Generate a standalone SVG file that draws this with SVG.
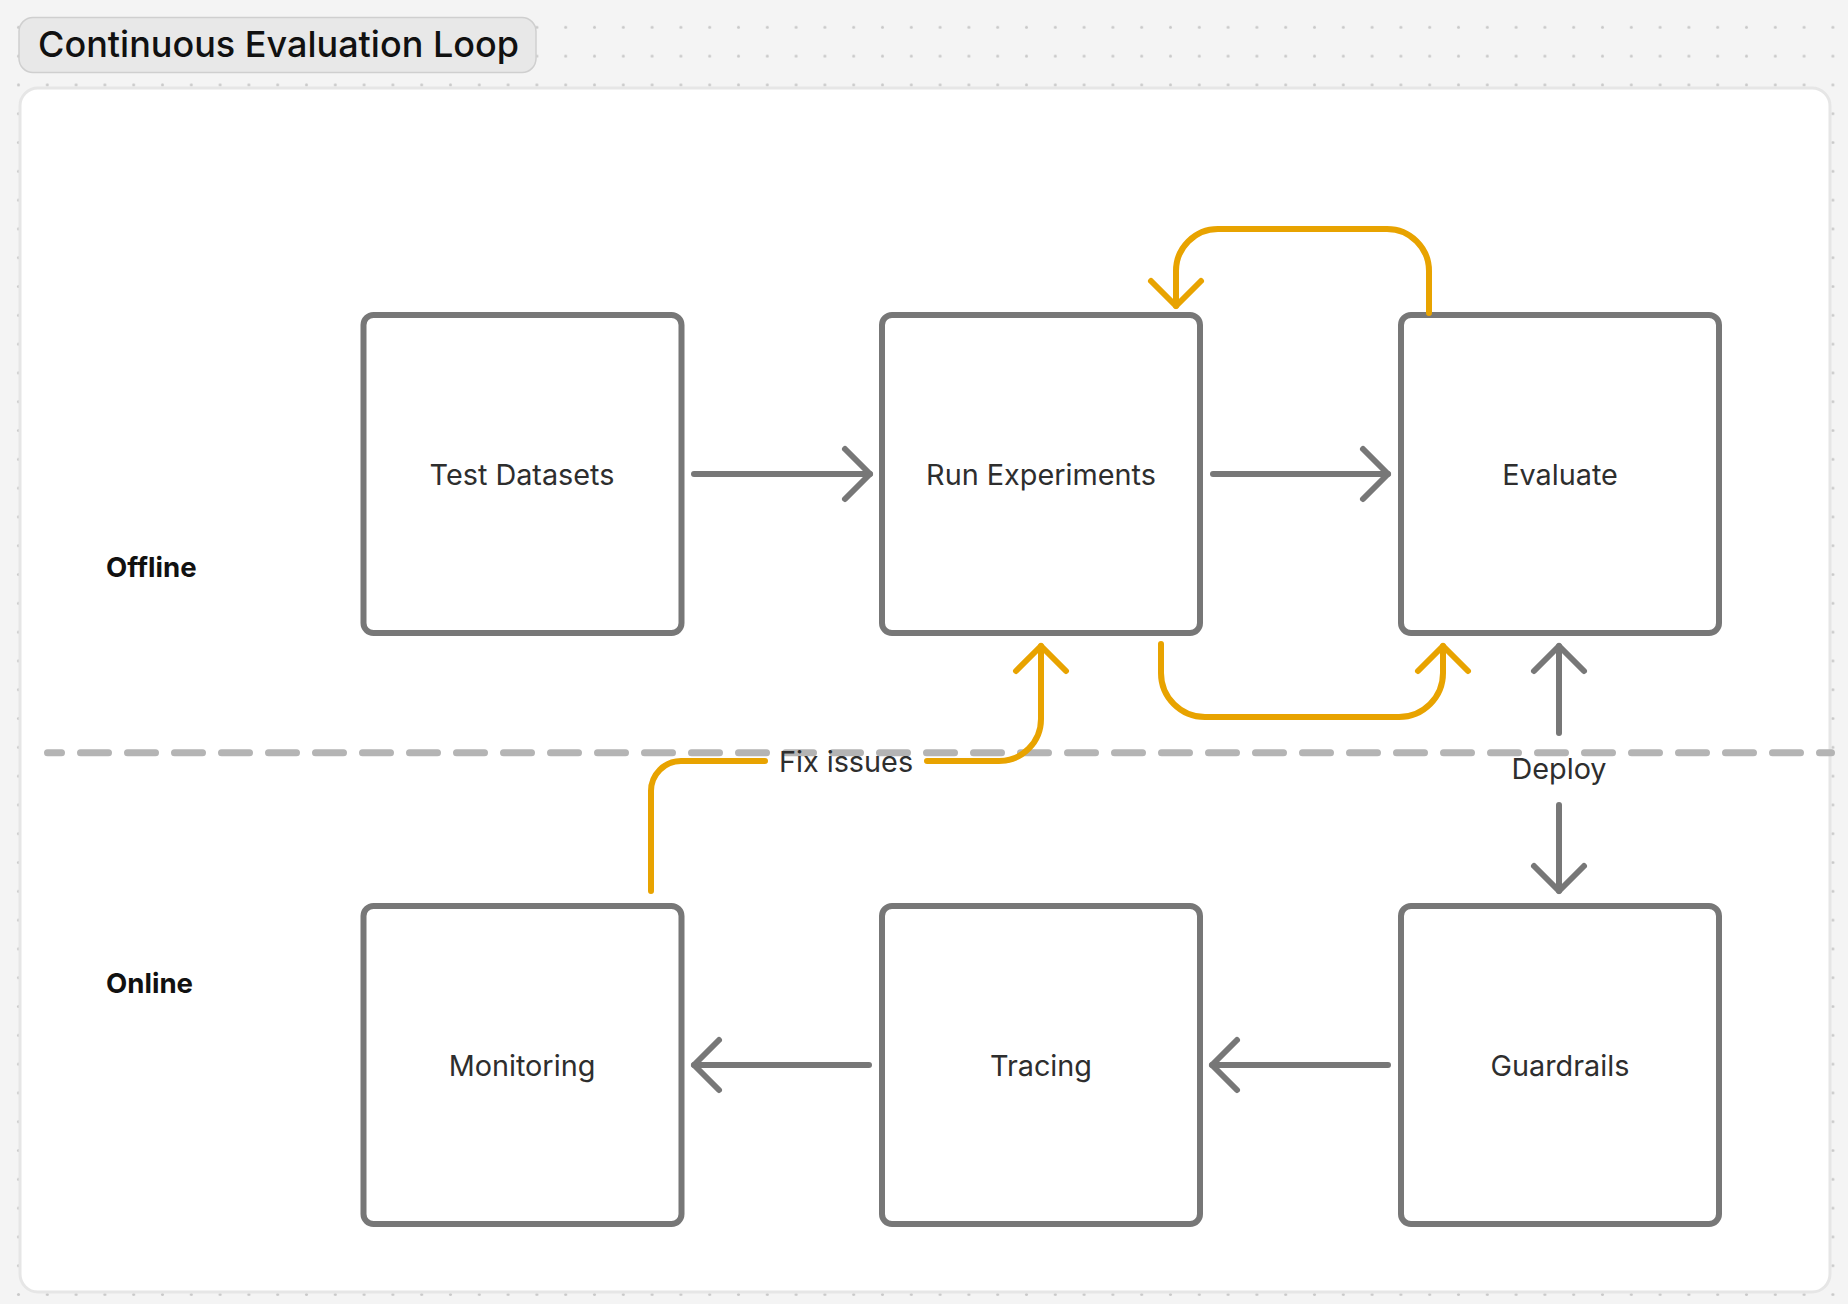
<svg xmlns="http://www.w3.org/2000/svg" width="1848" height="1304" viewBox="0 0 1848 1304">
<defs>
<pattern id="dots" patternUnits="userSpaceOnUse" x="4.1" y="-15.9" width="28.8" height="28.8">
<circle cx="14.4" cy="14.4" r="1.5" fill="#c9c9c9"/>
</pattern>
<marker id="ag" markerUnits="userSpaceOnUse" viewBox="0 0 40 60" refX="30" refY="30" markerWidth="40" markerHeight="60" orient="auto" overflow="visible">
<path d="M5,5 L30,30 L5,55" fill="none" stroke="#777777" stroke-width="6" stroke-linecap="round" stroke-linejoin="round"/>
</marker>
<marker id="ao" markerUnits="userSpaceOnUse" viewBox="0 0 40 60" refX="30" refY="30" markerWidth="40" markerHeight="60" orient="auto" overflow="visible">
<path d="M5,5 L30,30 L5,55" fill="none" stroke="#e8a300" stroke-width="6" stroke-linecap="round" stroke-linejoin="round"/>
</marker>
</defs>
<style>
.node rect{fill:#ffffff;stroke:#777777;stroke-width:6}
.lbl{font-family:Inter,"Liberation Sans",sans-serif;font-size:28.8px;fill:#2e2e2e;text-anchor:middle}
.lane{font-family:Inter,"Liberation Sans",sans-serif;font-size:27.6px;font-weight:700;fill:#111111}
.g{fill:none;stroke:#777777;stroke-width:6;stroke-linecap:round;stroke-linejoin:round}
.o{fill:none;stroke:#e8a300;stroke-width:6;stroke-linecap:round;stroke-linejoin:round}
</style>
<rect x="0" y="0" width="1848" height="1304" fill="#f4f4f4"/>
<rect x="0" y="0" width="1848" height="1304" fill="url(#dots)"/>
<g id="title">
<rect x="19" y="17.5" width="517" height="55" rx="14" fill="#e8e8e8" stroke="#cfcfcf" stroke-width="1.5"/>
<text x="38" y="56.5" font-family="Inter,'Liberation Sans',sans-serif" font-size="36" font-weight="500" fill="#111111">Continuous Evaluation Loop</text>
</g>
<rect id="panel" x="20" y="88" width="1810" height="1204" rx="18" fill="#ffffff" stroke="#e6e6e6" stroke-width="3"/>
<line id="divider" x1="47.5" y1="752.7" x2="1831.5" y2="752.7" stroke="#b4b4b4" stroke-width="7" stroke-linecap="round" stroke-dasharray="28 19" stroke-dashoffset="14"/>
<g id="lanes">
<text class="lane" x="106" y="577">Offline</text>
<text class="lane" x="106" y="993">Online</text>
</g>
<g id="test-datasets" class="node"><rect x="363.5" y="315" width="318" height="318" rx="10"/><text class="lbl" x="522" y="485">Test Datasets</text></g>
<g id="run-experiments" class="node"><rect x="882" y="315" width="318" height="318" rx="10"/><text class="lbl" x="1041" y="485">Run Experiments</text></g>
<g id="evaluate" class="node"><rect x="1401" y="315" width="318" height="318" rx="10"/><text class="lbl" x="1560" y="485">Evaluate</text></g>
<g id="monitoring" class="node"><rect x="363.5" y="906" width="318" height="318" rx="10"/><text class="lbl" x="522" y="1076">Monitoring</text></g>
<g id="tracing" class="node"><rect x="882" y="906" width="318" height="318" rx="10"/><text class="lbl" x="1041" y="1076">Tracing</text></g>
<g id="guardrails" class="node"><rect x="1401" y="906" width="318" height="318" rx="10"/><text class="lbl" x="1560" y="1076">Guardrails</text></g>
<g id="connectors">
<path class="g" d="M694,474 H870" marker-end="url(#ag)"/>
<path class="g" d="M1213,474 H1388" marker-end="url(#ag)"/>
<path class="g" d="M1388,1065 H1212" marker-end="url(#ag)"/>
<path class="g" d="M869,1065 H694" marker-end="url(#ag)"/>
<path class="g" d="M1559,733 V646" marker-end="url(#ag)"/>
<path class="g" d="M1559,805 V891" marker-end="url(#ag)"/>
<text class="lbl" x="1559" y="779">Deploy</text>
<path class="o" d="M1429,313 V271 A42,42 0 0 0 1387,229 H1218 A42,42 0 0 0 1176,271 V306" marker-end="url(#ao)"/>
<path class="o" d="M1161,644 V673 A44,44 0 0 0 1205,717 H1399 A44,44 0 0 0 1443,673 V646" marker-end="url(#ao)"/>
<path class="o" d="M651,891 V791 A30,30 0 0 1 681,761 H765"/>
<path class="o" d="M927,761 H999 A42,42 0 0 0 1041,719 V646" marker-end="url(#ao)"/>
<text class="lbl" x="846" y="772">Fix issues</text>
</g>
</svg>
